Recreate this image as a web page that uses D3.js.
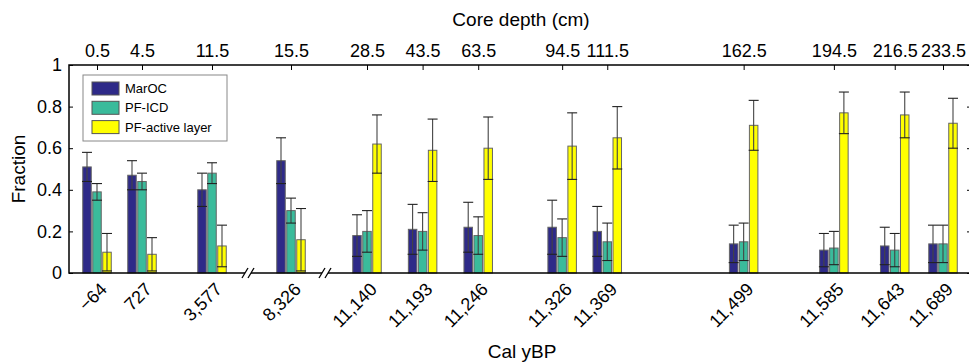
<!DOCTYPE html>
<html>
<head>
<meta charset="utf-8">
<script src="https://cdn.jsdelivr.net/npm/d3@7"></script>
<style>
  body { margin: 0; background: #fff; }
  text { font-family: "Liberation Sans", Arial, Helvetica, sans-serif; }
</style>
</head>
<body>
<script>
// Cal yBP of each sample (bottom axis) and core depth (top axis)
var calYears = [-64, 727, 3577, 8326, 11140, 11193, 11246, 11326, 11369, 11499, 11585, 11643, 11689];
var calLabels = ['\u221264', '727', '3,577', '8,326', '11,140', '11,193', '11,246', '11,326', '11,369', '11,499', '11,585', '11,643', '11,689'];
var depths = ['0.5', '4.5', '11.5', '15.5', '28.5', '43.5', '63.5', '94.5', '111.5', '162.5', '194.5', '216.5', '233.5'];

var seriesNames = ['MarOC', 'PF-ICD', 'PF-active layer'];
var seriesColors = ['#2e2a88', '#3abb9b', '#ffff00'];

// fractions, with lower / upper error limits
var marOC     = [0.51, 0.47, 0.40, 0.54, 0.18, 0.21, 0.22, 0.22, 0.20, 0.14, 0.11, 0.13, 0.14];
var marOCLow  = [0.44, 0.40, 0.32, 0.43, 0.08, 0.09, 0.10, 0.09, 0.08, 0.05, 0.03, 0.04, 0.05];
var marOCHigh = [0.58, 0.54, 0.48, 0.65, 0.28, 0.33, 0.34, 0.35, 0.32, 0.23, 0.19, 0.22, 0.23];

var pfICD     = [0.39, 0.44, 0.48, 0.30, 0.20, 0.20, 0.18, 0.17, 0.15, 0.15, 0.12, 0.11, 0.14];
var pfICDLow  = [0.35, 0.40, 0.43, 0.24, 0.10, 0.11, 0.09, 0.08, 0.06, 0.06, 0.04, 0.03, 0.05];
var pfICDHigh = [0.43, 0.48, 0.53, 0.36, 0.30, 0.29, 0.27, 0.26, 0.24, 0.24, 0.20, 0.19, 0.23];

var pfAL      = [0.10, 0.09, 0.13, 0.16, 0.62, 0.59, 0.60, 0.61, 0.65, 0.71, 0.77, 0.76, 0.72];
var pfALLow   = [0.01, 0.01, 0.03, 0.01, 0.48, 0.44, 0.45, 0.45, 0.50, 0.59, 0.67, 0.65, 0.60];
var pfALHigh  = [0.19, 0.17, 0.23, 0.31, 0.76, 0.74, 0.75, 0.77, 0.80, 0.83, 0.87, 0.87, 0.84];

var yTicks = [0, 0.2, 0.4, 0.6, 0.8, 1];

var width = 969, height = 362;
var plotLeft = 69, plotRight = 971, plotTop = 65, plotBottom = 273;
var tickFont = 18, titleFont = 19;

var svg = d3.select('body').append('svg')
    .attr('width', width)
    .attr('height', height);

// broken axis: piecewise scale on Cal yBP, linear after the last break
var x = d3.scaleLinear()
    .domain([-64, 727, 3577, 8326, 11140, 11689])
    .range([97, 142, 212, 291, 367, 943]);

var y = d3.scaleLinear().domain([0, 1]).range([plotBottom, plotTop]);

var series = [
    { vals: marOC, lo: marOCLow, hi: marOCHigh },
    { vals: pfICD, lo: pfICDLow, hi: pfICDHigh },
    { vals: pfAL, lo: pfALLow, hi: pfALHigh }
];
var barW = 8.5, step = 10;

series.forEach(function (s, k) {
    var off = (k - 1) * step;
    var g = svg.append('g');
    g.selectAll('rect')
        .data(s.vals)
        .enter().append('rect')
        .attr('x', function (d, i) { return x(calYears[i]) + off - barW / 2; })
        .attr('y', function (d) { return y(d); })
        .attr('width', barW)
        .attr('height', function (d) { return y(0) - y(d); })
        .attr('fill', seriesColors[k])
        .attr('stroke', '#666')
        .attr('stroke-width', 1);

    var eb = svg.append('g').attr('stroke', '#222').attr('stroke-width', 1.1);
    s.vals.forEach(function (d, i) {
        var cx = x(calYears[i]) + off;
        eb.append('line').attr('x1', cx).attr('x2', cx)
            .attr('y1', y(s.lo[i])).attr('y2', y(s.hi[i]))
            .attr('stroke', '#444');
        [s.lo[i], s.hi[i]].forEach(function (v) {
            eb.append('line').attr('x1', cx - 5).attr('x2', cx + 5)
                .attr('y1', y(v)).attr('y2', y(v));
        });
    });
});

// frame
svg.append('rect')
    .attr('x', plotLeft).attr('y', plotTop)
    .attr('width', plotRight - plotLeft).attr('height', plotBottom - plotTop)
    .attr('fill', 'none').attr('stroke', '#000').attr('stroke-width', 1.5);

// left axis
var yAxis = svg.append('g')
    .attr('transform', 'translate(' + plotLeft + ',0)')
    .call(d3.axisLeft(y).tickValues(yTicks).tickSize(-4).tickPadding(7)
        .tickFormat(function (d) { return d === 0 || d === 1 ? d : d3.format('.1f')(d); }));
yAxis.select('.domain').remove();
yAxis.selectAll('text').attr('font-size', tickFont).attr('fill', '#000')
    .style('font-family', '"Liberation Sans", Arial, sans-serif');

// right axis, ticks only
var yAxisR = svg.append('g')
    .attr('transform', 'translate(' + plotRight + ',0)')
    .call(d3.axisRight(y).tickValues(yTicks).tickSize(-4).tickFormat(''));
yAxisR.select('.domain').remove();

// top axis: core depth
var topAxis = svg.append('g')
    .attr('transform', 'translate(0,' + plotTop + ')')
    .call(d3.axisTop(x).tickValues(calYears).tickSize(-5).tickPadding(8)
        .tickFormat(function (d, i) { return depths[i]; }));
topAxis.select('.domain').remove();
topAxis.selectAll('text').attr('font-size', tickFont).attr('fill', '#000')
    .style('font-family', '"Liberation Sans", Arial, sans-serif');

// bottom axis: Cal yBP, rotated labels
var botAxis = svg.append('g')
    .attr('transform', 'translate(0,' + plotBottom + ')')
    .call(d3.axisBottom(x).tickValues(calYears).tickSize(0)
        .tickFormat(function (d, i) { return calLabels[i]; }));
botAxis.select('.domain').remove();
botAxis.selectAll('text')
    .attr('font-size', tickFont).attr('fill', '#000')
    .style('font-family', '"Liberation Sans", Arial, sans-serif')
    .attr('text-anchor', 'end')
    .attr('y', 0).attr('dy', '0.35em')
    .attr('transform', 'translate(6,13) rotate(-45)');

// axis breaks
[248, 325].forEach(function (bx) {
    svg.append('rect').attr('x', bx - 3).attr('y', plotBottom - 3)
        .attr('width', 6).attr('height', 6).attr('fill', '#fff');
    [-3, 3].forEach(function (dx) {
        svg.append('line')
            .attr('x1', bx + dx - 3).attr('y1', plotBottom + 5)
            .attr('x2', bx + dx + 3).attr('y2', plotBottom - 5)
            .attr('stroke', '#000').attr('stroke-width', 1.3);
    });
});

// titles
svg.append('text').attr('x', 521).attr('y', 26)
    .attr('text-anchor', 'middle').attr('font-size', titleFont).text('Core depth (cm)');
svg.append('text').attr('x', 522).attr('y', 358)
    .attr('text-anchor', 'middle').attr('font-size', titleFont).text('Cal yBP');
svg.append('text')
    .attr('transform', 'translate(25,' + ((plotTop + plotBottom) / 2) + ') rotate(-90)')
    .attr('text-anchor', 'middle').attr('font-size', titleFont).text('Fraction');

// legend
var lg = svg.append('g');
lg.append('rect').attr('x', 83).attr('y', 75).attr('width', 144).attr('height', 66)
    .attr('fill', '#fff').attr('stroke', '#888').attr('stroke-width', 1);
seriesNames.forEach(function (name, k) {
    var ly = 82 + k * 19.3;
    lg.append('rect').attr('x', 92).attr('y', ly).attr('width', 27).attr('height', 13)
        .attr('fill', seriesColors[k]).attr('stroke', '#555');
    lg.append('text').attr('x', 125).attr('y', ly + 6.5).attr('dy', '0.35em')
        .attr('font-size', 13).text(name);
});
</script>
</body>
</html>
